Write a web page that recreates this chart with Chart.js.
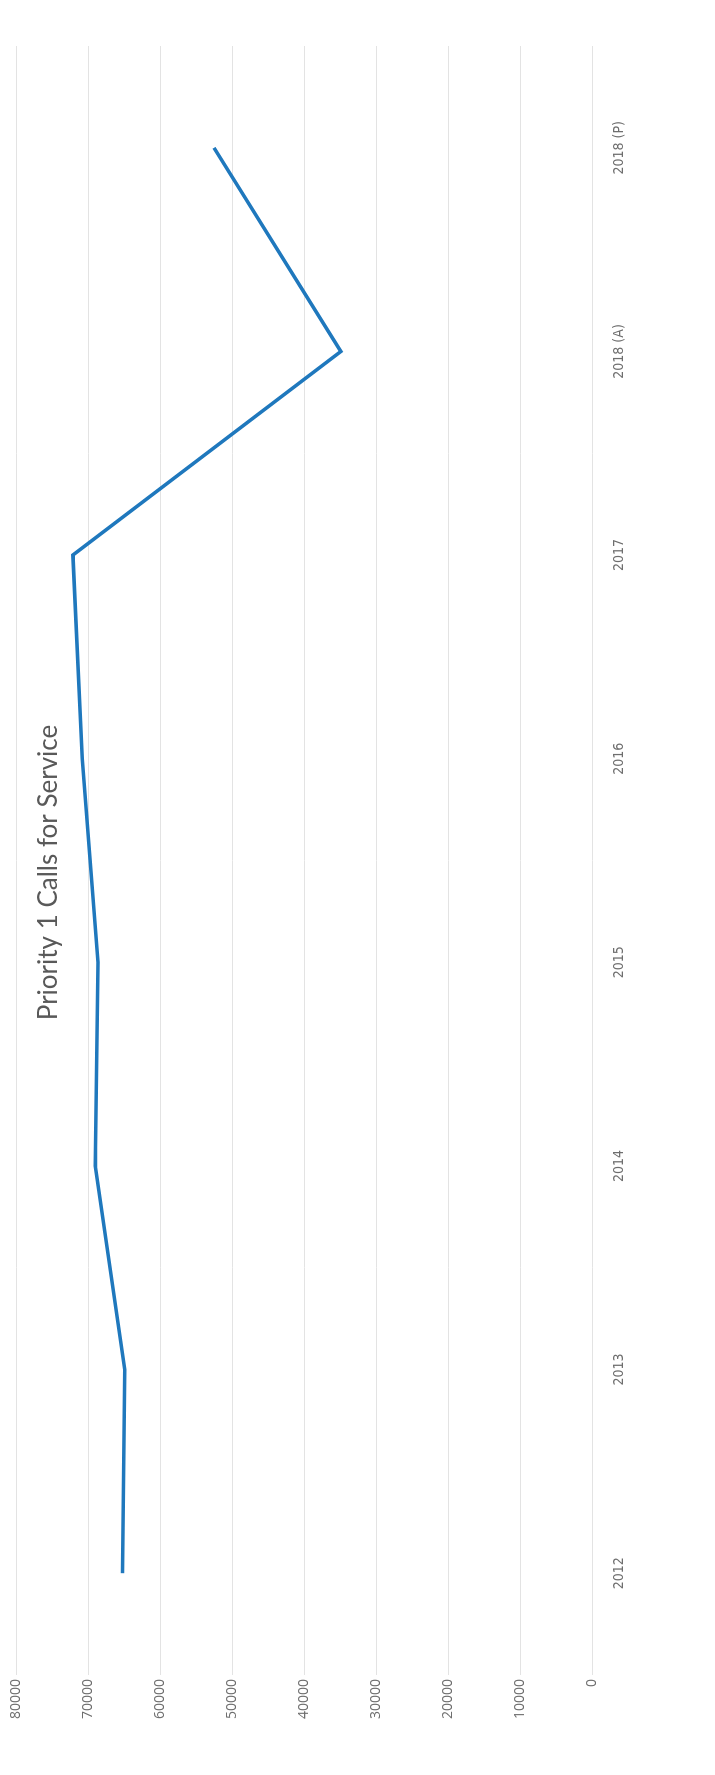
<!DOCTYPE html>
<html>
<head>
<meta charset="utf-8">
<script src="https://cdn.jsdelivr.net/npm/chart.js@4"></script>
<style>
    html, body { margin: 0; padding: 0; background: #ffffff; overflow: hidden; }
    #page { position: relative; width: 715px; height: 1775px; background: #ffffff; }
    /* the scanned page is turned on its side, so the chart is drawn flat and rotated */
    #chartBox {
        position: absolute; left: 0; top: 0;
        width: 1775px; height: 715px;
        transform-origin: 0 0;
        transform: translate(0, 1775px) rotate(-90deg);
    }
</style>
</head>
<body>
<div id="page">
    <div id="chartBox">
        <canvas id="callsChart" width="1775" height="715"></canvas>
    </div>
</div>
<script>
const chartTitle = 'Priority 1 Calls for Service';
const years = ['2012', '2013', '2014', '2015', '2016', '2017', '2018 (A)', '2018 (P)'];
const priorityCalls = [65200, 64900, 69000, 68600, 70800, 72100, 34900, 52500];
const valueMin = 0;
const valueMax = 80000;
const valueStep = 10000;

const lineBlue = '#1f78bd';
const textGrey = '#6e6e6e';
const gridGrey = '#e3e3e3';

// title sits inside the plot area, like the Excel original
const overlayTitle = {
    id: 'overlayTitle',
    afterDraw(chart) {
        const ctx = chart.ctx;
        const area = chart.chartArea;
        ctx.save();
        ctx.font = '26px Lato, "Open Sans", sans-serif';
        ctx.fillStyle = '#595959';
        ctx.textAlign = 'center';
        ctx.textBaseline = 'middle';
        ctx.fillText(chartTitle, (area.left + area.right) / 2 - 12, area.top + 33);
        ctx.restore();
    }
};

const callsChart = new Chart(document.getElementById('callsChart').getContext('2d'), {
    type: 'line',
    data: {
        labels: years,
        datasets: [{
            label: chartTitle,
            data: priorityCalls,
            borderColor: lineBlue,
            backgroundColor: lineBlue,
            borderWidth: 3.5,
            pointRadius: 0,
            tension: 0,
            fill: false
        }]
    },
    options: {
        responsive: false,
        animation: false,
        layout: {
            padding: { left: 56, right: 46, top: 16, bottom: 68 }
        },
        scales: {
            x: {
                offset: true,
                grid: { display: false, drawTicks: false },
                border: { display: false },
                ticks: {
                    color: textGrey,
                    padding: 19,
                    maxRotation: 0,
                    font: { family: '"Liberation Sans Narrow", "DejaVu Sans Condensed", sans-serif', size: 14 }
                }
            },
            y: {
                min: valueMin,
                max: valueMax,
                grid: { color: gridGrey, lineWidth: 1, drawTicks: false },
                border: { display: false },
                ticks: {
                    stepSize: valueStep,
                    color: textGrey,
                    padding: 4,
                    font: { family: '"Open Sans", sans-serif', size: 14 },
                    callback: (value) => String(value)
                },
                afterFit(scale) {
                    scale.width = 44;
                }
            }
        },
        plugins: {
            legend: { display: false },
            title: { display: false },
            tooltip: { enabled: false }
        }
    },
    plugins: [overlayTitle]
});
</script>
</body>
</html>
